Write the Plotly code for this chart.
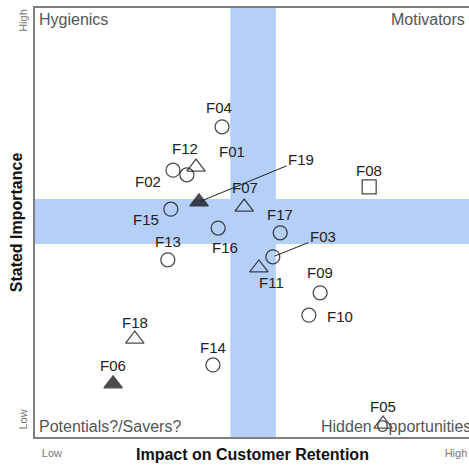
import plotly.graph_objects as go

names = ["F01", "F02", "F03", "F04", "F05", "F06", "F07", "F08", "F09", "F10",
         "F11", "F12", "F13", "F14", "F15", "F16", "F17", "F18", "F19"]
impact = [35.0, 31.8, 54.8, 43.1, 80.2, 18.0, 48.2, 77.0, 65.7, 63.1,
          51.6, 37.1, 30.6, 41.0, 31.3, 42.2, 56.5, 23.0, 37.8]
importance = [61.1, 62.2, 42.0, 72.3, 3.0, 12.4, 53.6, 58.3, 33.6, 28.4,
              39.4, 62.9, 41.3, 16.8, 53.1, 48.7, 47.6, 22.8, 54.8]
kind = ["circle", "circle", "circle", "circle", "triangle", "solid", "triangle", "square", "circle", "circle",
        "triangle", "triangle", "circle", "circle", "circle", "circle", "circle", "triangle", "solid"]
quadrants = ["Hygienics", "Motivators", "Potentials?/Savers?", "Hidden Opportunities"]
x_ticks = ["Low", "High"]
y_ticks = ["Low", "High"]
band_low, band_high = 45, 55.5

# label offsets in pixels (dx, dy up-positive), arrow flag
label_off = {
    "F01": (45, 23, False), "F02": (-25, -11, False), "F03": (50, 20, True),
    "F04": (-3, 19, False), "F05": (0, 18, False), "F06": (0, 18, False),
    "F07": (1, 20, False), "F08": (0, 16, False), "F09": (0, 20, False),
    "F10": (31, -1, False), "F11": (13, -15, False), "F12": (-11, 19, False),
    "F13": (0, 18, False), "F14": (0, 17, False), "F15": (-25, -10, False),
    "F16": (7, -19, False), "F17": (0, 18, False), "F18": (0, 17, False),
    "F19": (102, 42, True),
}

sym_map = {"circle": "circle-open", "triangle": "triangle-up-open", "square": "square-open", "solid": "triangle-up"}
size_map = {"circle": 14, "triangle": 16, "square": 14, "solid": 16}

FAM = "Liberation Sans, Arial"
fig = go.Figure()
fig.add_trace(go.Scatter(
    x=impact, y=importance, mode="markers",
    marker=dict(symbol=[sym_map[k] for k in kind], size=[size_map[k] for k in kind],
                color="black", line=dict(color="black", width=1.3)),
    hoverinfo="text", text=names, showlegend=False, cliponaxis=False))

font = dict(family=FAM, size=15, color="#222")
for n, x, y in zip(names, impact, importance):
    dx, dy, arrow = label_off[n]
    if arrow:
        fig.add_annotation(x=x, y=y, text=n, showarrow=True, arrowhead=0, arrowwidth=1,
                           arrowcolor="#222", ax=dx, ay=-dy, font=font, standoff=2)
    else:
        fig.add_annotation(x=x, y=y, text=n, showarrow=False, xshift=dx, yshift=dy, font=font)

qfont = dict(family=FAM, size=16, color="#555")
fig.add_annotation(x=0, y=100, xref="x", yref="y", text=quadrants[0], showarrow=False,
                   xanchor="left", yanchor="top", xshift=2, yshift=-1, font=qfont)
fig.add_annotation(x=100, y=100, text=quadrants[1], showarrow=False,
                   xanchor="right", yanchor="top", xshift=-2, yshift=-1, font=qfont)
fig.add_annotation(x=0, y=0, text=quadrants[2], showarrow=False,
                   xanchor="left", yanchor="bottom", xshift=2, yshift=0, font=qfont)
fig.add_annotation(x=100, y=0, text=quadrants[3], showarrow=False,
                   xanchor="right", yanchor="bottom", xshift=4, yshift=0, font=qfont)

tfont = dict(family=FAM, size=16, color="#111")
fig.add_annotation(xref="paper", yref="paper", x=0.5, y=-0.04, text="<b>Impact on Customer Retention</b>",
                   showarrow=False, xanchor="center", yanchor="middle", font=tfont)
fig.add_annotation(xref="paper", yref="paper", x=-0.042, y=0.5, text="<b>Stated Importance</b>",
                   showarrow=False, xanchor="center", yanchor="middle", textangle=-90, font=tfont)

band_color = "#B5CFF6"
fig.add_shape(type="rect", xref="x", yref="y", x0=band_low, x1=band_high, y0=0, y1=100,
              fillcolor=band_color, line_width=0, layer="below")
fig.add_shape(type="rect", xref="x", yref="y", x0=0, x1=100, y0=band_low, y1=band_high,
              fillcolor=band_color, line_width=0, layer="below")

tickfont = dict(family=FAM, size=11, color="#777")
fig.update_layout(
    width=469, height=466,
    margin=dict(l=35, r=0, t=8, b=29),
    plot_bgcolor="white", paper_bgcolor="white",
    xaxis=dict(range=[0, 100], showgrid=False, zeroline=False, showline=True, mirror=True,
               linecolor="#808080", linewidth=2, tickvals=[3.9, 97], ticktext=x_ticks,
               tickfont=tickfont, ticks="outside", ticklen=5, tickcolor="rgba(0,0,0,0)"),
    yaxis=dict(range=[0, 100], showgrid=False, zeroline=False, showline=True, mirror=False,
               linecolor="#808080", linewidth=2, tickvals=[3.7, 96.7], ticktext=y_ticks, tickangle=-90,
               tickfont=tickfont, ticks="outside", ticklen=2, tickcolor="rgba(0,0,0,0)"),
)

fig.write_html("out.html", config={"displayModeBar": False},
               post_script="document.body.style.margin='0';document.body.style.overflow='hidden';")
